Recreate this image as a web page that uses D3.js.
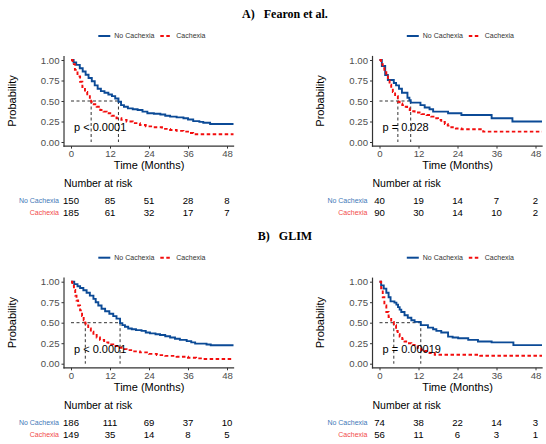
<!DOCTYPE html>
<html><head><meta charset="utf-8">
<script src="https://cdn.jsdelivr.net/npm/d3@7"></script>
<style>body{margin:0;background:#fff}svg{display:block}</style>
</head><body>
<script>
// ---------- DATA ----------
const panelTitles = ["A)\u00a0\u00a0 Fearon et al.", "B)\u00a0\u00a0 GLIM"];
const groups = ["No Cachexia", "Cachexia"];
const xTicks = [0, 12, 24, 36, 48];
const yTicks = [0, 0.25, 0.5, 0.75, 1];
const pValues = ["p < 0.0001", "p = 0.028", "p < 0.0001", "p = 0.00019"];

// Fearon, left: [time, survival]
const fearonLeftNoCachexia = [[0,1],[0.8,0.97],[1.6,0.94],[2.7,0.90],[3.6,0.86],[4.5,0.82],[5.4,0.78],[6.4,0.74],[7.3,0.69],[8.2,0.65],[9.2,0.62],[10.3,0.60],[11.5,0.58],[12.6,0.56],[13.6,0.53],[14.6,0.49],[15.4,0.45],[16.3,0.43],[17.5,0.41],[19,0.40],[20.5,0.39],[22,0.37],[23.5,0.35],[25.5,0.345],[27.5,0.335],[29,0.32],[30.5,0.31],[32.5,0.30],[34.6,0.29],[36,0.275],[37.6,0.255],[39.5,0.245],[40.7,0.235],[42.8,0.22],[50,0.22]];
const fearonLeftCachexia = [[0,1],[0.5,0.95],[1.2,0.88],[2,0.80],[2.8,0.735],[3.5,0.67],[4.3,0.61],[5,0.56],[5.8,0.52],[6.2,0.49],[7,0.46],[7.9,0.43],[9,0.39],[10,0.37],[11,0.35],[12.5,0.32],[14,0.29],[15.5,0.27],[17.1,0.25],[19,0.23],[21.2,0.207],[23,0.19],[25.3,0.18],[28,0.16],[30.5,0.146],[32.5,0.136],[34.6,0.126],[36,0.11],[37.6,0.094],[50,0.094]];
// Fearon, right
const fearonRightNoCachexia = [[0,1],[0.72,0.927],[1.75,0.817],[2.57,0.756],[4.4,0.72],[5.1,0.69],[6,0.65],[6.9,0.60],[8.6,0.54],[9.2,0.51],[9.6,0.48],[12.6,0.45],[13.9,0.42],[15.4,0.40],[16.5,0.37],[21.1,0.35],[25.2,0.33],[34.5,0.29],[40.9,0.25],[50,0.25]];
const fearonRightCachexia = [[0,1],[0.5,0.95],[1,0.90],[1.5,0.85],[2.1,0.80],[2.6,0.75],[3.1,0.70],[3.6,0.655],[4.1,0.61],[4.8,0.56],[5.65,0.49],[6.2,0.47],[7,0.45],[7.7,0.43],[8.5,0.41],[9.3,0.39],[10,0.375],[10.8,0.36],[12.9,0.34],[14.5,0.33],[15.9,0.31],[17,0.29],[18,0.27],[19,0.245],[20.1,0.22],[21,0.2],[22.1,0.18],[23.5,0.165],[25.2,0.155],[31.9,0.126],[50,0.126]];
// GLIM, left
const glimLeftNoCachexia = [[0,1],[1,0.97],[2,0.945],[2.8,0.923],[3.8,0.895],[4.8,0.866],[5.8,0.83],[6.9,0.79],[7.6,0.75],[8.4,0.71],[9.4,0.67],[10.5,0.64],[11.8,0.61],[13,0.58],[14,0.55],[15.1,0.495],[15.8,0.47],[16.6,0.45],[17.6,0.43],[18.7,0.42],[20,0.41],[21.7,0.40],[23,0.38],[24.3,0.37],[26,0.36],[27.4,0.35],[29,0.335],[30.5,0.32],[32,0.305],[33.5,0.29],[35.6,0.275],[37,0.26],[38.2,0.245],[41.7,0.235],[43,0.225],[50,0.225]];
const glimLeftCachexia = [[0,1],[0.4,0.95],[0.9,0.90],[1.3,0.83],[1.7,0.77],[2.2,0.71],[2.8,0.65],[3.4,0.58],[3.9,0.53],[4.4,0.49],[5.3,0.43],[6.1,0.39],[6.9,0.35],[7.9,0.32],[8.9,0.29],[10.2,0.26],[11.5,0.235],[13,0.215],[14.6,0.195],[16,0.178],[17.1,0.166],[19,0.15],[21.2,0.138],[24,0.12],[26.4,0.105],[29,0.095],[32.5,0.085],[36,0.072],[38.5,0.065],[40.7,0.057],[50,0.055]];
// GLIM, right
const glimRightNoCachexia = [[0,1],[0.5,0.955],[1.3,0.915],[2.1,0.866],[2.8,0.81],[3.4,0.76],[4.6,0.745],[5.2,0.72],[5.7,0.69],[6.2,0.66],[6.7,0.63],[7.7,0.59],[8.7,0.56],[9.8,0.53],[10.8,0.51],[12.7,0.47],[14.9,0.44],[16.5,0.42],[17.5,0.40],[19,0.38],[21.1,0.33],[22.5,0.32],[24.2,0.31],[27.3,0.29],[30.3,0.27],[34.5,0.26],[41.2,0.227],[50,0.227]];
const glimRightCachexia = [[0,1],[0.5,0.92],[1,0.81],[1.5,0.71],[2.1,0.63],[2.8,0.57],[3.6,0.51],[4.4,0.47],[5.1,0.40],[5.6,0.36],[6.2,0.33],[7,0.30],[7.7,0.27],[8.7,0.25],[9.8,0.23],[10.8,0.21],[11.8,0.19],[12.8,0.17],[13.9,0.155],[15.4,0.13],[17,0.11],[30.3,0.11],[31,0.097],[50,0.097]];

// Numbers at risk at 0,12,24,36,48
const riskFearonLeftNo = [150, 85, 51, 28, 8];
const riskFearonLeftCa = [185, 61, 32, 17, 7];
const riskFearonRightNo = [40, 19, 14, 7, 2];
const riskFearonRightCa = [90, 30, 14, 10, 2];
const riskGlimLeftNo = [186, 111, 69, 37, 10];
const riskGlimLeftCa = [149, 35, 14, 8, 5];
const riskGlimRightNo = [74, 38, 22, 14, 3];
const riskGlimRightCa = [56, 11, 6, 3, 1];

// ---------- LAYOUT ----------
const colors = ["#0B4A96", "#F20D0D"];
const labelColors = ["#3F78B8", "#F24A4A"];
const SANS = "'Liberation Sans', Arial, sans-serif";
const dx = 308.5, dy = 221.7;
const panels = [
  {ox:0,  oy:0,  curves:[fearonLeftNoCachexia, fearonLeftCachexia], risk:[riskFearonLeftNo, riskFearonLeftCa], p:pValues[0]},
  {ox:dx, oy:0,  curves:[fearonRightNoCachexia, fearonRightCachexia], risk:[riskFearonRightNo, riskFearonRightCa], p:pValues[1]},
  {ox:0,  oy:dy, curves:[glimLeftNoCachexia, glimLeftCachexia], risk:[riskGlimLeftNo, riskGlimLeftCa], p:pValues[2]},
  {ox:dx, oy:dy, curves:[glimRightNoCachexia, glimRightCachexia], risk:[riskGlimRightNo, riskGlimRightCa], p:pValues[3]}
];

const svg = d3.select("body").append("svg").attr("width", 546).attr("height", 444);

// titles
panelTitles.forEach((t, i) => {
  svg.append("text").attr("x", 285).attr("y", 18.3 + i * dy)
    .attr("text-anchor", "middle")
    .style("font-family", "'Liberation Serif', 'Times New Roman', serif")
    .style("font-weight", "bold").style("font-size", "12px")
    .text(t);
});

panels.forEach(P => {
  const g = svg.append("g");
  const x = d3.scaleLinear().domain([0, 48]).range([71 + P.ox, 227 + P.ox]);
  const y = d3.scaleLinear().domain([0, 1]).range([142 + P.oy, 60 + P.oy]);
  const xMin = -2.15, xMax = 50.2, yMin = -0.05, yMax = 1.05;

  // legend
  const ly = 36 + P.oy;
  const lx = 98.3 + P.ox;
  g.append("line").attr("x1", lx).attr("x2", lx + 12).attr("y1", ly).attr("y2", ly)
    .attr("stroke", colors[0]).attr("stroke-width", 2);
  g.append("text").attr("x", lx + 16).attr("y", ly).attr("dy", "0.35em")
    .style("font-family", SANS).style("font-size", "7px").attr("fill", "#333").text(groups[0]);
  g.append("line").attr("x1", lx + 62).attr("x2", lx + 73).attr("y1", ly).attr("y2", ly)
    .attr("stroke", colors[1]).attr("stroke-width", 2).attr("stroke-dasharray", "3.5,2.5");
  g.append("text").attr("x", lx + 78).attr("y", ly).attr("dy", "0.35em")
    .style("font-family", SANS).style("font-size", "7px").attr("fill", "#333").text(groups[1]);

  // y axis
  const yAx = g.append("g").attr("transform", `translate(${x(xMin)},0)`)
    .call(d3.axisLeft(y).tickValues(yTicks).tickSize(2.5).tickPadding(2).tickFormat(d3.format(".2f")));
  yAx.select(".domain").remove();
  yAx.selectAll("line").attr("stroke", "#333").attr("stroke-width", 1);
  yAx.selectAll("text").style("font-family", SANS).style("font-size", "9.6px").attr("fill", "#4D4D4D");
  // x axis
  const xAx = g.append("g").attr("transform", `translate(0,${y(yMin)})`)
    .call(d3.axisBottom(x).tickValues(xTicks).tickSize(2.5).tickPadding(1.5));
  xAx.select(".domain").remove();
  xAx.selectAll("line").attr("stroke", "#333").attr("stroke-width", 1);
  xAx.selectAll("text").style("font-family", SANS).style("font-size", "9.6px").attr("fill", "#4D4D4D");
  // axis lines
  g.append("line").attr("x1", x(xMin)).attr("x2", x(xMin)).attr("y1", y(yMax)).attr("y2", y(yMin) + 0.6)
    .attr("stroke", "#333").attr("stroke-width", 1.2);
  g.append("line").attr("x1", x(xMin) - 0.6).attr("x2", x(xMax)).attr("y1", y(yMin)).attr("y2", y(yMin))
    .attr("stroke", "#333").attr("stroke-width", 1.2);

  // axis titles
  g.append("text").attr("transform", `translate(${12 + P.ox},${y(0.5)}) rotate(-90)`)
    .attr("text-anchor", "middle").attr("dy", "0.35em")
    .style("font-family", SANS).style("font-size", "11px").text("Probability");
  g.append("text").attr("x", (x(xMin) + x(xMax)) / 2).attr("y", 165 + P.oy).attr("dy", "0.35em")
    .attr("text-anchor", "middle").style("font-family", SANS).style("font-size", "11px").text("Time (Months)");

  // medians
  const medians = P.curves.map(c => { const f = c.find(d => d[1] <= 0.5); return f ? f[0] : null; });
  const maxMed = d3.max(medians);
  g.append("line").attr("x1", x(0)).attr("x2", x(maxMed)).attr("y1", y(0.5)).attr("y2", y(0.5))
    .attr("stroke", "#333").attr("stroke-width", 1).attr("stroke-dasharray", "3,2.5");
  medians.forEach(m => {
    g.append("line").attr("x1", x(m)).attr("x2", x(m)).attr("y1", y(0.5)).attr("y2", y(0))
      .attr("stroke", "#333").attr("stroke-width", 1).attr("stroke-dasharray", "3,2.5");
  });

  // curves
  const line = d3.line().x(d => x(d[0])).y(d => y(d[1])).curve(d3.curveStepAfter);
  P.curves.forEach((c, i) => {
    g.append("path").datum(c).attr("d", line).attr("fill", "none")
      .attr("stroke", colors[i]).attr("stroke-width", 1.9)
      .attr("stroke-dasharray", i === 1 ? "3.5,2.5" : null);
  });

  // p value
  g.append("text").attr("x", x(0) + 3).attr("y", y(0.18)).attr("dy", "0.35em")
    .style("font-family", SANS).style("font-size", "11px").text(P.p);

  // risk table
  g.append("text").attr("x", x(xMin)).attr("y", 183.5 + P.oy).attr("dy", "0.35em")
    .style("font-family", SANS).style("font-size", "10.5px").text("Number at risk");
  const rowY = [201 + P.oy, 212.6 + P.oy];
  P.risk.forEach((r, i) => {
    g.append("text").attr("x", 59 + P.ox).attr("y", rowY[i]).attr("dy", "0.35em")
      .attr("text-anchor", "end").style("font-family", SANS).style("font-size", "7px")
      .attr("fill", labelColors[i]).text(groups[i]);
    g.selectAll(null).data(r).join("text")
      .attr("x", (d, j) => x(xTicks[j])).attr("y", rowY[i]).attr("dy", "0.35em")
      .attr("text-anchor", "middle").style("font-family", SANS).style("font-size", "9.6px")
      .text(d => d);
  });
});
</script>
</body></html>
